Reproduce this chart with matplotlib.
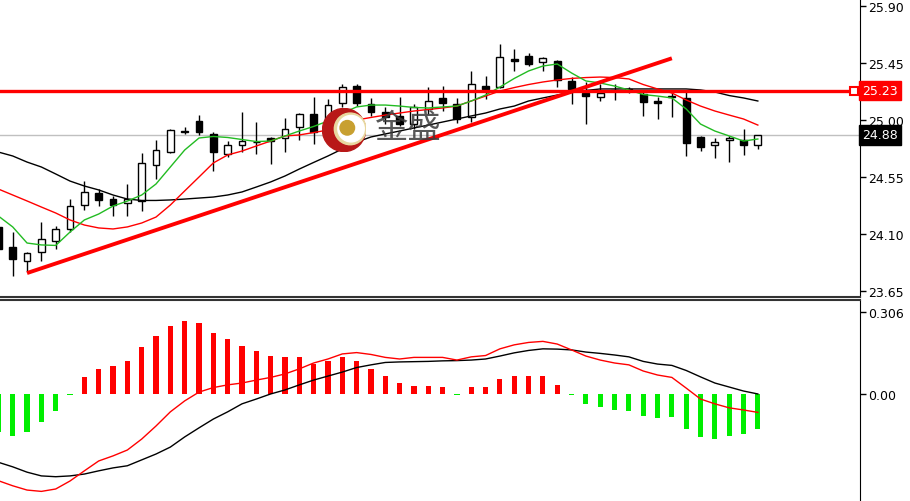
import matplotlib.pyplot as plt
import numpy as np
from matplotlib.patches import Circle
import matplotlib.transforms as mtransforms

plt.rcParams['font.family'] = ['DejaVu Sans']

# K线数据 (开, 收, 高, 低)
opens = [24.153, 23.996, 23.885, 23.956, 24.043, 24.138, 24.327, 24.422, 24.374, 24.343,
         24.359, 24.643, 24.745, 24.907, 24.990, 24.888, 24.730, 24.801, 24.824, 24.856,
         24.856, 24.943, 25.045, 25.006, 25.132, 25.266, 25.124, 25.061, 25.030, 24.966,
         25.085, 25.172, 25.124, 25.022, 25.266, 25.258, 25.479, 25.503, 25.456, 25.464,
         25.306, 25.211, 25.180, 25.227, 25.235, 25.203, 25.148, 25.187, 25.172, 24.864,
         24.801, 24.840, 24.840, 24.801]
closes = [23.980, 23.901, 23.948, 24.059, 24.138, 24.319, 24.430, 24.367, 24.327, 24.374,
          24.659, 24.761, 24.919, 24.911, 24.903, 24.745, 24.801, 24.832, 24.828, 24.832,
          24.927, 25.045, 24.903, 25.116, 25.258, 25.132, 25.061, 25.022, 24.966, 25.101,
          25.148, 25.132, 25.006, 25.282, 25.243, 25.495, 25.464, 25.440, 25.487, 25.314,
          25.243, 25.187, 25.211, 25.235, 25.239, 25.140, 25.132, 25.180, 24.817, 24.785,
          24.824, 24.856, 24.801, 24.880]
highs = [24.185, 24.114, 23.956, 24.193, 24.161, 24.374, 24.516, 24.453, 24.398, 24.493,
         24.738, 24.840, 24.927, 24.943, 25.037, 24.903, 24.832, 25.061, 24.982, 24.864,
         25.014, 25.053, 25.180, 25.164, 25.282, 25.282, 25.172, 25.101, 25.180, 25.124,
         25.258, 25.266, 25.172, 25.385, 25.345, 25.598, 25.558, 25.527, 25.495, 25.472,
         25.337, 25.298, 25.282, 25.282, 25.258, 25.227, 25.180, 25.219, 25.219, 24.872,
         24.856, 24.872, 24.927, 24.880]
lows = [23.948, 23.767, 23.798, 23.885, 23.980, 24.114, 24.288, 24.319, 24.240, 24.240,
        24.280, 24.532, 24.738, 24.888, 24.880, 24.595, 24.706, 24.745, 24.730, 24.651,
        24.745, 24.840, 24.809, 24.998, 25.101, 25.108, 25.030, 24.966, 24.951, 24.927,
        25.045, 25.069, 24.974, 24.982, 25.164, 25.251, 25.385, 25.424, 25.385, 25.258,
        25.124, 24.966, 25.148, 25.156, 25.211, 25.030, 25.006, 25.022, 24.714, 24.753,
        24.698, 24.667, 24.722, 24.769]

# 均线
ma_fast = [24.240, 24.154, 24.027, 24.012, 24.008, 24.114, 24.209, 24.256, 24.319, 24.358,
           24.406, 24.493, 24.627, 24.761, 24.856, 24.868, 24.860, 24.844, 24.828, 24.832,
           24.872, 24.911, 24.947, 24.990, 25.053, 25.101, 25.116, 25.116, 25.108, 25.097,
           25.093, 25.101, 25.108, 25.148, 25.195, 25.258, 25.326, 25.385, 25.424, 25.440,
           25.369, 25.306, 25.290, 25.266, 25.235, 25.199, 25.187, 25.172, 25.085, 24.966,
           24.911, 24.872, 24.832, 24.848]
ma_mid = [24.453, 24.406, 24.359, 24.311, 24.264, 24.209, 24.169, 24.146, 24.138, 24.154,
          24.185, 24.232, 24.327, 24.438, 24.548, 24.659, 24.722, 24.753, 24.793, 24.832,
          24.872, 24.880, 24.899, 24.919, 24.958, 24.998, 25.018, 25.037, 25.053, 25.069,
          25.081, 25.093, 25.108, 25.148, 25.187, 25.227, 25.254, 25.278, 25.298, 25.314,
          25.326, 25.333, 25.337, 25.333, 25.322, 25.278, 25.243, 25.211, 25.156, 25.108,
          25.069, 25.037, 25.006, 24.958]
ma_slow = [24.745, 24.714, 24.666, 24.627, 24.572, 24.516, 24.477, 24.446, 24.406, 24.374,
           24.363, 24.363, 24.367, 24.374, 24.382, 24.390, 24.406, 24.430, 24.469, 24.509,
           24.556, 24.611, 24.663, 24.714, 24.769, 24.824, 24.864, 24.888, 24.911, 24.935,
           24.958, 24.982, 25.006, 25.030, 25.053, 25.085, 25.108, 25.148, 25.172, 25.195,
           25.215, 25.231, 25.243, 25.243, 25.243, 25.243, 25.243, 25.243, 25.243, 25.235,
           25.219, 25.191, 25.172, 25.148]

# MACD
macd_hist = [-0.144, -0.156, -0.144, -0.106, -0.065, -0.004, 0.063, 0.094, 0.106, 0.125,
             0.175, 0.218, 0.254, 0.272, 0.266, 0.229, 0.206, 0.181, 0.162, 0.144,
             0.137, 0.137, 0.112, 0.125, 0.140, 0.125, 0.094, 0.069, 0.040, 0.031,
             0.031, 0.027, -0.004, 0.027, 0.027, 0.056, 0.069, 0.069, 0.069, 0.035,
             -0.004, -0.037, -0.050, -0.059, -0.065, -0.081, -0.090, -0.087, -0.131, -0.162,
             -0.169, -0.156, -0.150, -0.131]
macd_red = [-0.325, -0.344, -0.360, -0.365, -0.356, -0.326, -0.288, -0.251, -0.232, -0.210,
            -0.169, -0.120, -0.067, -0.026, 0.007, 0.024, 0.034, 0.041, 0.052, 0.062,
            0.075, 0.094, 0.116, 0.131, 0.150, 0.155, 0.148, 0.137, 0.131, 0.137,
            0.137, 0.137, 0.127, 0.139, 0.144, 0.169, 0.184, 0.193, 0.197, 0.187,
            0.165, 0.142, 0.127, 0.116, 0.109, 0.086, 0.071, 0.062, 0.022, -0.019,
            -0.037, -0.052, -0.060, -0.069]
macd_black = [-0.256, -0.273, -0.293, -0.307, -0.310, -0.307, -0.300, -0.288, -0.277, -0.269,
              -0.247, -0.225, -0.199, -0.161, -0.127, -0.094, -0.067, -0.037, -0.019, 0.000,
              0.015, 0.034, 0.052, 0.067, 0.082, 0.099, 0.109, 0.118, 0.120, 0.121,
              0.122, 0.124, 0.125, 0.127, 0.131, 0.142, 0.154, 0.163, 0.169, 0.168,
              0.165, 0.157, 0.152, 0.146, 0.139, 0.122, 0.112, 0.107, 0.088, 0.064,
              0.041, 0.026, 0.011, 0.000]

price_ticks = [23.65, 24.10, 24.55, 25.00, 25.45, 25.90]
macd_ticks = [0.0, 0.306]
hline_level = 25.23
last_price = 24.88
trend_x = [2, 47]
trend_y = [23.79, 25.485]

W, H = 910, 502
fig = plt.figure(figsize=(W / 100, H / 100), dpi=100)
ax = fig.add_axes([0, 1 - 298 / H, 860 / W, 298 / H])
ax2 = fig.add_axes([0, 0, 860 / W, 201 / H])

idx = np.arange(len(opens))
o = np.array(opens)
c = np.array(closes)
up = c >= o

# 主图
ax.axhline(last_price, color='#c0c0c0', lw=1, zorder=1)
ax.vlines(idx, lows, highs, color='black', lw=1, zorder=3)
bot = np.minimum(o, c)
hgt = np.maximum(np.abs(c - o), 0.004)
ax.bar(idx[up], hgt[up], bottom=bot[up], width=0.48, color='white', edgecolor='black', lw=1, zorder=4)
ax.bar(idx[~up], hgt[~up], bottom=bot[~up], width=0.48, color='black', edgecolor='black', lw=1, zorder=4)

ax.plot(idx, ma_slow, color='black', lw=1, zorder=5)
ax.plot(idx, ma_mid, color='red', lw=1, zorder=5)
ax.plot(idx, ma_fast, color='#22bb22', lw=1, zorder=5)

ax.axhline(hline_level, color='red', lw=2.4, zorder=6)
ax.plot(trend_x, trend_y, color='red', lw=2.8, zorder=7, solid_capstyle='butt')
ax.plot([0.993], [hline_level], marker='s', ms=6, mfc='white', mec='red', mew=1.5,
        transform=mtransforms.blended_transform_factory(ax.transAxes, ax.transData), zorder=8)

ax.set_xlim(0.112, 60.13)
ax.set_ylim(23.601, 25.953)
ax.set_xticks([])
ax.yaxis.tick_right()
ax.set_yticks(price_ticks)
ax.set_yticklabels([f'{t:.2f}' for t in price_ticks])
ax.tick_params(axis='y', direction='out', length=4, width=1, pad=2, labelsize=9)
for s in ['left', 'top']:
    ax.spines[s].set_visible(False)
ax.spines['bottom'].set_linewidth(1.5)
ax.spines['bottom'].set_color('#333333')

blend = mtransforms.blended_transform_factory(ax.transAxes, ax.transData)
ax.text(1.003, hline_level, '25.23', transform=blend, color='white', fontsize=9, va='center', ha='left',
        bbox=dict(boxstyle='square,pad=0.25', fc='red', ec='red'), zorder=10, clip_on=False)
ax.text(1.003, last_price, '24.88', transform=blend, color='white', fontsize=9, va='center', ha='left',
        bbox=dict(boxstyle='square,pad=0.25', fc='black', ec='black'), zorder=10, clip_on=False)

# 水印
fig.text(374 / W, 1 - 129 / H, '金盛', fontsize=24, color='#3a3a3a', alpha=0.85,
         family=['Noto Sans CJK SC', 'DejaVu Sans'], va='center', ha='left', zorder=20)
lax = fig.add_axes([322 / W, 1 - 153 / H, 44 / W, 44 / H])
lax.set_xlim(-1, 1)
lax.set_ylim(-1, 1)
lax.set_aspect('equal')
lax.axis('off')
lax.add_patch(Circle((0, 0), 0.98, color='#b81818'))
lax.add_patch(Circle((0.28, 0.05), 0.72, color='#e8d8a0'))
lax.add_patch(Circle((0.32, 0.06), 0.6, color='white'))
lax.add_patch(Circle((0.15, 0.1), 0.33, color='#c8a030'))

# MACD 副图
hist = np.array(macd_hist)
colors = np.where(hist >= 0, '#ff0000', '#00ee00')
ax2.bar(idx, hist, width=0.36, color=colors, zorder=2)
ax2.plot(idx, macd_black, color='black', lw=1, zorder=3)
ax2.plot(idx, macd_red, color='red', lw=1, zorder=3)
ax2.set_xlim(0.112, 60.13)
ax2.set_ylim(-0.401, 0.352)
ax2.set_xticks([])
ax2.yaxis.tick_right()
ax2.set_yticks(macd_ticks)
ax2.set_yticklabels(['0.00', '0.306'])
ax2.tick_params(axis='y', direction='out', length=4, width=1, pad=2, labelsize=9)
for s in ['left', 'bottom']:
    ax2.spines[s].set_visible(False)
ax2.spines['top'].set_linewidth(1.5)
ax2.spines['top'].set_color('#333333')

plt.savefig('out.png', dpi=100)
